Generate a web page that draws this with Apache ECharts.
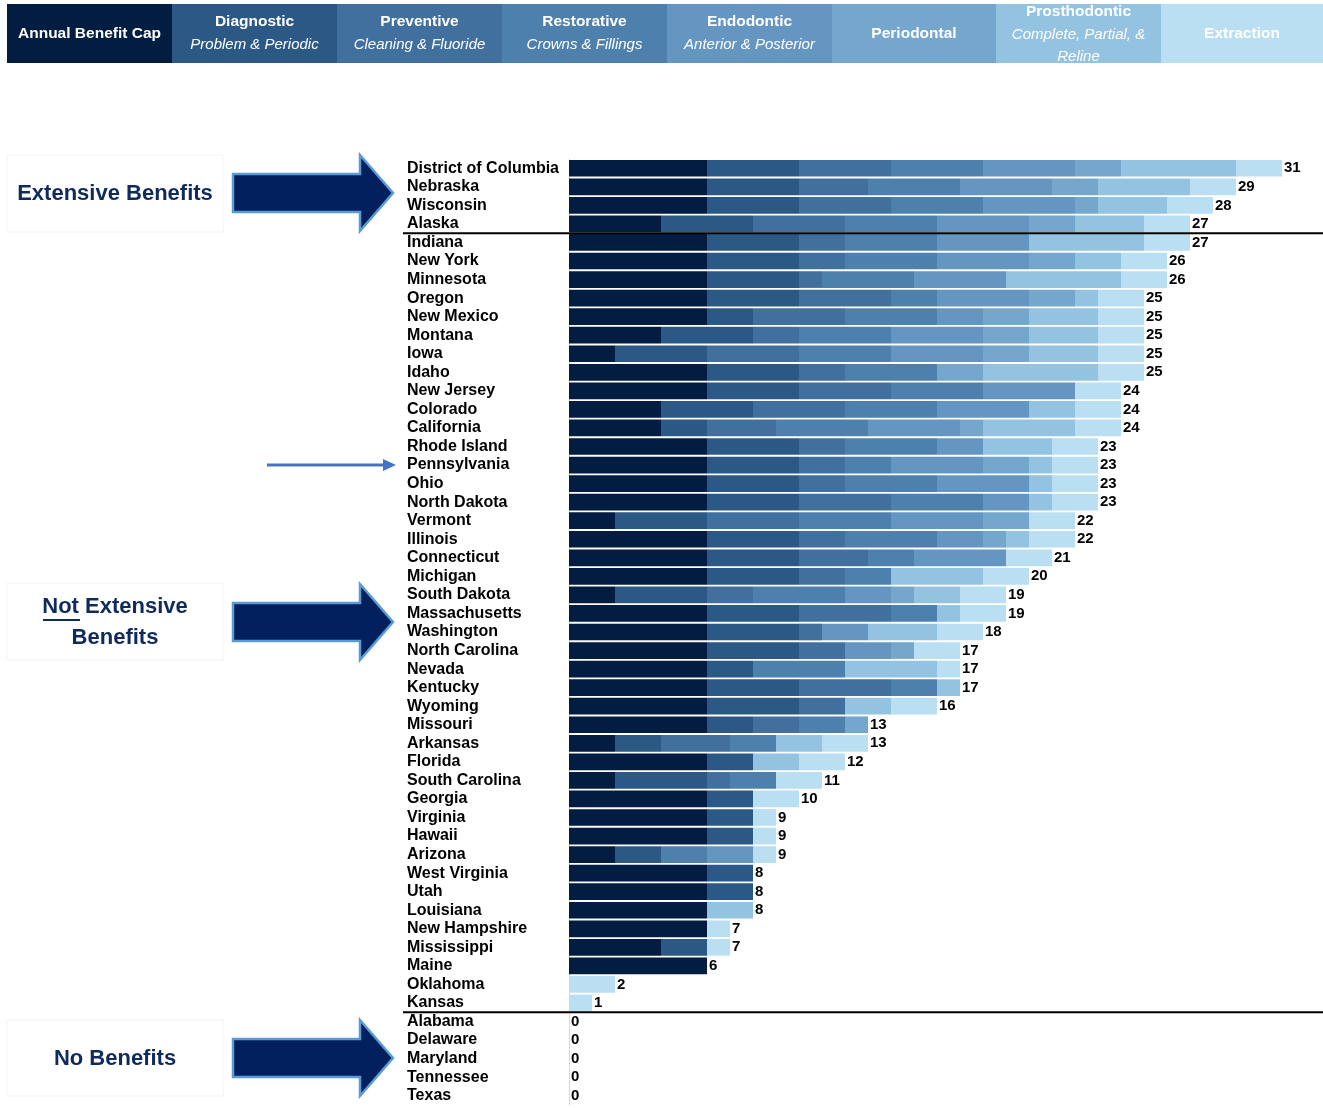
<!DOCTYPE html>
<html>
<head>
<meta charset="utf-8">
<script src="https://cdn.jsdelivr.net/npm/echarts@6/dist/echarts.min.js"></script>
<style>
html, body { margin: 0; padding: 0; background: #fff; }
#chart { width: 1323px; height: 1108px; }
</style>
</head>
<body>
<div id="chart"></div>
<script>
var states = ['District of Columbia', 'Nebraska', 'Wisconsin', 'Alaska', 'Indiana', 'New York', 'Minnesota', 'Oregon',
    'New Mexico', 'Montana', 'Iowa', 'Idaho', 'New Jersey', 'Colorado', 'California', 'Rhode Island', 'Pennsylvania',
    'Ohio', 'North Dakota', 'Vermont', 'Illinois', 'Connecticut', 'Michigan', 'South Dakota', 'Massachusetts',
    'Washington', 'North Carolina', 'Nevada', 'Kentucky', 'Wyoming', 'Missouri', 'Arkansas', 'Florida',
    'South Carolina', 'Georgia', 'Virginia', 'Hawaii', 'Arizona', 'West Virginia', 'Utah', 'Louisiana',
    'New Hampshire', 'Mississippi', 'Maine', 'Oklahoma', 'Kansas', 'Alabama', 'Delaware', 'Maryland', 'Tennessee', 'Texas'];

// one value per state, same order as states
var benefitCap    = [6,6,6,4,6,6,6,6,6,4, 2,6,6,4,4,6,6,6,6,2, 6,6,6,2,6,6,6,6,6,6, 6,2,6,2,6,6,6,2,6,6, 6,6,4,6,0,0,0,0,0,0,0];
var diagnostic    = [4,4,4,4,4,4,4,4,2,4, 4,4,4,4,2,4,4,4,4,4, 4,4,4,4,4,4,4,2,4,4, 2,2,2,4,2,2,2,2,2,2, 0,0,2,0,0,0,0,0,0,0,0];
var preventive    = [4,3,4,4,2,2,1,4,4,2, 4,2,4,4,3,2,2,2,4,4, 2,3,2,2,4,1,2,0,4,2, 2,3,0,1,0,0,0,0,0,0, 0,0,0,0,0,0,0,0,0,0,0];
var restorative   = [4,4,4,4,4,4,4,2,4,4, 4,4,4,4,4,4,2,4,4,4, 4,2,2,4,2,0,0,4,2,0, 2,2,0,2,0,0,0,2,0,0, 0,0,0,0,0,0,0,0,0,0,0];
var endodontic    = [4,4,4,4,4,4,4,4,2,4, 4,0,4,4,4,2,4,4,2,4, 2,4,0,2,0,2,2,0,0,0, 0,0,0,0,0,0,0,2,0,0, 0,0,0,0,0,0,0,0,0,0,0];
var periodontal   = [2,2,1,2,0,2,0,2,2,2, 2,2,0,0,1,0,2,0,0,2, 1,0,0,1,0,0,1,0,0,0, 1,0,0,0,0,0,0,0,0,0, 0,0,0,0,0,0,0,0,0,0,0];
var prosthodontic = [5,4,3,3,5,2,5,1,3,3, 3,5,0,2,4,3,1,1,1,0, 1,0,4,2,1,3,0,4,1,2, 0,2,2,0,0,0,0,0,0,0, 2,0,0,0,0,0,0,0,0,0,0];
var extraction    = [2,2,2,2,2,2,2,2,2,2, 2,2,2,2,2,2,2,2,2,2, 2,2,2,2,2,2,2,1,0,2, 0,2,2,2,2,1,1,1,0,0, 0,1,1,0,2,1,0,0,0,0,0];
var totals        = [31,29,28,27,27,26,26,25,25,25, 25,25,24,24,24,23,23,23,23,22, 22,21,20,19,19,18,17,17,17,16, 13,13,12,11,10,9,9,9,8,8, 8,7,7,6,2,1,0,0,0,0,0];

var categoryNames = ['Annual Benefit Cap', 'Diagnostic', 'Preventive', 'Restorative', 'Endodontic', 'Periodontal', 'Prosthodontic', 'Extraction'];
var categorySubs = ['', 'Problem & Periodic', 'Cleaning & Fluoride', 'Crowns & Fillings', 'Anterior & Posterior', '', 'Complete, Partial, &\nReline', ''];
var colors = ['#021d41', '#2c5886', '#41709f', '#4e80ae', '#6596c1', '#75a7cd', '#94c3e1', '#badff2'];

var FONT = '"Liberation Sans", Roboto, sans-serif';
var NAVY = '#0f2b5b';

var chart = echarts.init(document.getElementById('chart'));

var seriesData = [benefitCap, diagnostic, preventive, restorative, endodontic, periodontal, prosthodontic, extraction];
var series = [];
for (var i = 0; i < seriesData.length; i++) {
    var s = {
        name: categoryNames[i],
        type: 'bar',
        stack: 'total',
        data: seriesData[i],
        barCategoryGap: '10%',
        itemStyle: { color: colors[i] },
        emphasis: { disabled: true },
        label: { show: false }
    };
    if (i == seriesData.length - 1) {
        s.label = {
            show: true,
            position: 'right',
            distance: 2,
            color: '#000',
            fontSize: 15,
            fontWeight: 'bold',
            fontFamily: FONT,
            formatter: function (p) { return totals[p.dataIndex]; }
        };
    }
    series.push(s);
}

option = {
    animation: false,
    grid: { left: 569, right: 18, top: 159, height: 946 },
    xAxis: { type: 'value', min: 0, max: 32, show: false },
    yAxis: {
        type: 'category',
        data: states,
        inverse: true,
        axisTick: { show: false },
        axisLine: { show: true, lineStyle: { color: '#d9d9d9', width: 1 } },
        axisLabel: {
            interval: 0,
            align: 'left',
            margin: 162,
            color: '#000',
            fontSize: 16,
            fontWeight: 'bold',
            fontFamily: FONT
        }
    },
    series: series
};
chart.setOption(option);

// header boxes (the legend)
var graphics = [];
var edges = [7, 172, 337, 502, 667, 832, 996, 1161, 1323];
for (var k = 0; k < categoryNames.length; k++) {
    var cx = (edges[k] + edges[k + 1]) / 2;
    graphics.push({ type: 'rect', shape: { x: edges[k], y: 4, width: edges[k + 1] - edges[k], height: 59 }, style: { fill: colors[k] }, silent: true });
    var sub = categorySubs[k];
    var titleY = sub ? (sub.indexOf('\n') >= 0 ? 12 : 22) : 34;
    graphics.push({ type: 'text', x: cx, y: titleY, style: { text: categoryNames[k], fill: '#fff', font: 'bold 15.5px ' + FONT, align: 'center', verticalAlign: 'middle' }, silent: true });
    if (sub) {
        graphics.push({ type: 'text', x: cx, y: titleY + 12, style: { text: sub, fill: '#fff', font: 'italic 15px ' + FONT, align: 'center', verticalAlign: 'top', lineHeight: 22 }, silent: true, z: 10 });
    }
}

// group annotations on the left
function bigArrow(cy) {
    return {
        type: 'polygon',
        shape: { points: [[233, cy - 19], [360, cy - 19], [360, cy - 38], [393, cy], [360, cy + 38], [360, cy + 19], [233, cy + 19]] },
        style: { fill: '#03205e', stroke: '#5b9bd5', lineWidth: 2.5 },
        silent: true
    };
}
function faintBox(y0, y1) {
    return { type: 'rect', shape: { x: 7, y: y0, width: 216, height: y1 - y0 }, style: { fill: '#fff', stroke: '#f4f4f4', lineWidth: 1 }, silent: true };
}
graphics.push(faintBox(155, 232), faintBox(583, 660), faintBox(1020, 1096));
graphics.push(bigArrow(193), bigArrow(622), bigArrow(1058));
graphics.push({ type: 'text', x: 115, y: 194, style: { text: 'Extensive Benefits', fill: NAVY, font: 'bold 22px ' + FONT, align: 'center', verticalAlign: 'middle' }, silent: true });
graphics.push({ type: 'text', x: 115, y: 607, style: { text: 'Not Extensive', fill: NAVY, font: 'bold 22px ' + FONT, align: 'center', verticalAlign: 'middle' }, silent: true });
graphics.push({ type: 'line', shape: { x1: 43, y1: 620, x2: 80, y2: 620 }, style: { stroke: NAVY, lineWidth: 2 }, silent: true });
graphics.push({ type: 'text', x: 115, y: 638, style: { text: 'Benefits', fill: NAVY, font: 'bold 22px ' + FONT, align: 'center', verticalAlign: 'middle' }, silent: true });
graphics.push({ type: 'text', x: 115, y: 1059, style: { text: 'No Benefits', fill: NAVY, font: 'bold 22px ' + FONT, align: 'center', verticalAlign: 'middle' }, silent: true });

// small arrow pointing at Pennsylvania
var yPa = chart.convertToPixel({ yAxisIndex: 0 }, 'Pennsylvania');
graphics.push({ type: 'line', shape: { x1: 267, y1: yPa, x2: 386, y2: yPa }, style: { stroke: '#4472c4', lineWidth: 3 }, silent: true });
graphics.push({ type: 'polygon', shape: { points: [[383, yPa - 6], [396, yPa], [383, yPa + 6]] }, style: { fill: '#4472c4' }, silent: true });

// separators between the groups
var yA = (chart.convertToPixel({ yAxisIndex: 0 }, 'Alaska') + chart.convertToPixel({ yAxisIndex: 0 }, 'Indiana')) / 2;
var yB = (chart.convertToPixel({ yAxisIndex: 0 }, 'Kansas') + chart.convertToPixel({ yAxisIndex: 0 }, 'Alabama')) / 2;
graphics.push({ type: 'line', shape: { x1: 403, y1: yA, x2: 1323, y2: yA }, style: { stroke: '#000', lineWidth: 2 }, z: 20, silent: true });
graphics.push({ type: 'line', shape: { x1: 403, y1: yB, x2: 1323, y2: yB }, style: { stroke: '#000', lineWidth: 2 }, z: 20, silent: true });

chart.setOption({ graphic: graphics });
</script>
</body>
</html>
